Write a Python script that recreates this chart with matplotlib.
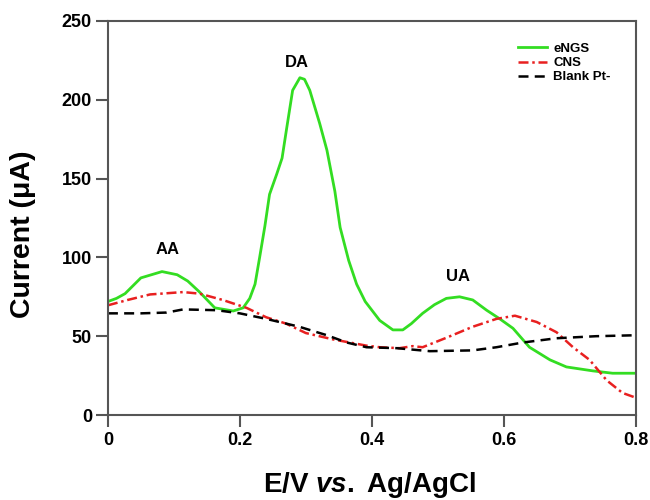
import matplotlib
matplotlib.use("Agg")
import matplotlib.pyplot as plt

plt.rcParams['font.family'] = ['Liberation Sans', 'DejaVu Sans']
plt.rcParams['mathtext.fontset'] = 'custom'
plt.rcParams['mathtext.rm'] = 'Liberation Sans:bold'
plt.rcParams['mathtext.it'] = 'Liberation Sans:italic:bold'
plt.rcParams['mathtext.bf'] = 'Liberation Sans:bold'

# Differential pulse voltammograms (potential in V, current in uA)
engs_x = [0.0, 0.013, 0.026, 0.05, 0.082, 0.105, 0.121, 0.139, 0.162, 0.19, 0.205,
          0.215, 0.223, 0.23, 0.238, 0.245, 0.256, 0.264, 0.271, 0.28, 0.291,
          0.298, 0.306, 0.321, 0.332, 0.344, 0.352, 0.365, 0.377, 0.39, 0.412,
          0.432, 0.447, 0.46, 0.477, 0.495, 0.513, 0.533, 0.553, 0.574, 0.594,
          0.614, 0.639, 0.67, 0.695, 0.735, 0.765, 0.8]
engs_y = [72, 74, 77, 87, 91, 89, 85, 78, 68, 66, 68,
          74, 83, 100, 120, 140, 153, 163, 182, 206, 214,
          213, 206, 185, 168, 142, 119, 98, 83, 72, 60,
          54, 54, 58, 64.5, 70, 74, 75, 73, 66.5, 61,
          55, 43, 35, 30.5, 28, 26.5, 26.5]

cns_x = [0.0, 0.03, 0.064, 0.114, 0.139, 0.174, 0.21, 0.24, 0.27, 0.30, 0.341,
         0.392, 0.412, 0.442, 0.462, 0.477, 0.513, 0.553, 0.589, 0.617, 0.65,
         0.68, 0.705, 0.73, 0.756, 0.78, 0.8]
cns_y = [69.6, 73, 76.5, 78, 77, 73, 68, 62, 58, 52, 48,
         44, 43, 42.4, 43.7, 43, 49, 56, 61, 63, 59,
         52.5, 43, 35, 22, 14, 11]

blank_x = [0.0, 0.05, 0.089, 0.114, 0.165, 0.2, 0.24, 0.29, 0.332, 0.362, 0.392,
           0.438, 0.488, 0.553, 0.589, 0.629, 0.68, 0.74, 0.8]
blank_y = [64.5, 64.5, 65, 67, 66.5, 64.5, 61, 56, 50.6, 46, 43,
           42.4, 40.5, 41, 43, 46, 48.7, 50, 50.6]

peak_labels = ['AA', 'DA', 'UA']
peak_x = [0.09, 0.286, 0.53]
peak_y = [100, 219, 83]

x_ticks = [0, 0.2, 0.4, 0.6, 0.8]
x_ticklabels = ['0', '0.2', '0.4', '0.6', '0.8']
y_ticks = [0, 50, 100, 150, 200, 250]

fig = plt.figure(figsize=(6.5, 5), dpi=100)
ax = fig.add_axes([0.166, 0.17, 0.812, 0.788])

ax.plot(engs_x, engs_y, color='#33dd22', lw=2.0, label='eNGS')
ax.plot(cns_x, cns_y, color='#e82020', lw=1.8, dashes=(4, 1.5, 1, 1.5), label='CNS')
ax.plot(blank_x, blank_y, color='black', lw=1.8, dashes=(4, 2.5), label='Blank Pt-')

for lab, px, py in zip(peak_labels, peak_x, peak_y):
    ax.text(px, py, lab, ha='center', va='bottom', fontsize=12, fontweight='bold')

ax.set_xlim(0, 0.8)
ax.set_ylim(0, 250)
ax.set_xticks(x_ticks)
ax.set_xticklabels(x_ticklabels)
ax.set_yticks(y_ticks)
for s in ax.spines.values():
    s.set_color('#555555')
    s.set_linewidth(1.5)
ax.tick_params(direction='out', length=8.5, width=1.5, color='#555555',
               labelsize=13)
ax.tick_params(axis='y', pad=3)
ax.tick_params(axis='x', pad=4)
for t in ax.get_xticklabels() + ax.get_yticklabels():
    t.set_fontweight('bold')

ax.set_ylabel('Current (\u03bcA)', fontsize=20.5, fontweight='bold')
ax.yaxis.set_label_coords(-0.137, 0.46)
ax.set_xlabel(r'E/V $\mathit{vs.}$ Ag/AgCl', fontsize=20, fontweight='bold')
ax.xaxis.set_label_coords(0.496, -0.14)

leg = ax.legend(loc='upper right', bbox_to_anchor=(0.975, 0.975), frameon=False,
                prop={'weight': 'bold', 'size': 9.5}, handlelength=2.2,
                handletextpad=0.5, labelspacing=0.15)

fig.savefig('out.png', dpi=100)
